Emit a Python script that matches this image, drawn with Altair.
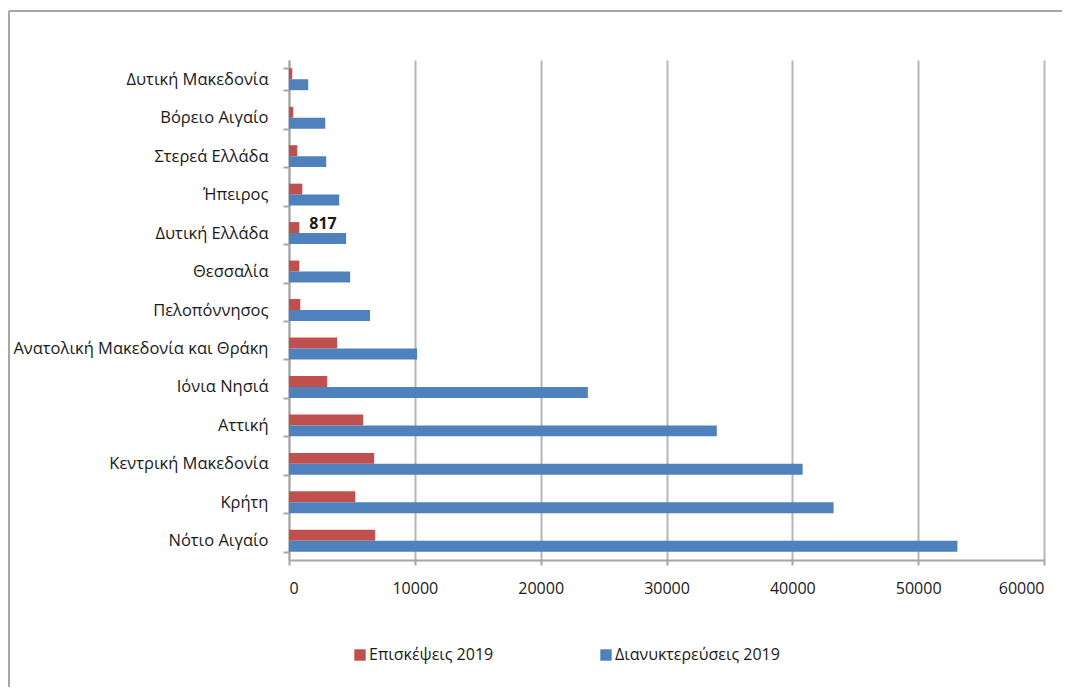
import altair as alt
import pandas as pd

regions = ["Δυτική Μακεδονία", "Βόρειο Αιγαίο", "Στερεά Ελλάδα", "Ήπειρος",
           "Δυτική Ελλάδα", "Θεσσαλία", "Πελοπόννησος",
           "Ανατολική Μακεδονία και Θράκη", "Ιόνια Νησιά", "Αττική",
           "Κεντρική Μακεδονία", "Κρήτη", "Νότιο Αιγαίο "]
visits = [260, 340, 660, 1060, 817, 820, 900, 3830, 3040, 5900, 6770, 5270, 6850]
nights = [1530, 2880, 2960, 3990, 4540, 4860, 6440, 10180, 23750, 34000, 40820, 43280, 53120]
series = ["Επισκέψεις 2019", "Διανυκτερεύσεις 2019"]
colors = ["#C0504D", "#4F81BD"]

rows = []
for r, v, n in zip(regions, visits, nights):
    rows.append({"region": r, "series": series[0], "value": v})
    rows.append({"region": r, "series": series[1], "value": n})
df = pd.DataFrame(rows)

FONT = "Open Sans"
W, H = 755, 500

y_enc = alt.Y("region:N", sort=regions, title=None,
              scale=alt.Scale(paddingInner=0.43, paddingOuter=0.215),
              axis=alt.Axis(tickBand="extent", tickSize=6, labelPadding=15,
                            domainColor="#A6A6A6", domainWidth=2,
                            tickColor="#A6A6A6", tickWidth=2,
                            labelFontSize=16.5, labelColor="#1a1a1a", labelLimit=400,
                            labelFont=FONT, grid=False))
x_enc = alt.X("value:Q", title=None,
              scale=alt.Scale(domain=[0, 60000], nice=False),
              axis=alt.Axis(values=[0, 10000, 20000, 30000, 40000, 50000, 60000],
                            format="d", grid=True, gridColor="#B5B5B5", gridWidth=2,
                            domainColor="#A6A6A6", domainWidth=2,
                            tickColor="#A6A6A6", tickWidth=2, tickSize=5,
                            labelPadding=15, labelFontSize=16, labelColor="#1a1a1a",
                            labelFont=FONT))

bars = alt.Chart(df).mark_bar().encode(
    y=y_enc,
    x=x_enc,
    yOffset=alt.YOffset("series:N", sort=series),
    color=alt.Color("series:N", sort=series,
                    scale=alt.Scale(domain=series, range=colors),
                    legend=alt.Legend(title=None, orient="none", direction="horizontal",
                                      legendX=63, legendY=587,
                                      symbolType="square", symbolSize=130,
                                      symbolStrokeWidth=0, symbolOffset=0,
                                      labelOffset=1, columnPadding=104,
                                      labelFontSize=16, labelFont=FONT,
                                      labelColor="#1a1a1a", labelLimit=300)),
)

label = alt.Chart(df).transform_filter(
    (alt.datum.region == "Δυτική Ελλάδα") & (alt.datum.series == series[0])
).mark_text(align="left", baseline="middle", dx=10, dy=-4,
            fontWeight="bold", fontSize=16, font=FONT, color="#1a1a1a").encode(
    y=alt.Y("region:N", sort=regions),
    x="value:Q",
    yOffset=alt.YOffset("series:N", sort=series),
    text=alt.Text("value:Q", format="d"),
)

blank = alt.Data(values=[{}])
top_line = alt.Chart(blank).mark_rule(color="#A6A6A6", strokeWidth=2).encode(
    x=alt.value(-280), x2=alt.value(W + 18), y=alt.value(-49))
left_line = alt.Chart(blank).mark_rule(color="#A6A6A6", strokeWidth=2).encode(
    x=alt.value(-280), y=alt.value(-49), y2=alt.value(H + 127))

chart = alt.layer(bars, label, top_line, left_line).properties(
    width=W, height=H,
    autosize=alt.AutoSizeParams(type="none"),
    padding={"left": 281, "top": 52, "right": 18, "bottom": 127},
    background="white",
).configure_view(stroke=None)

chart.save("out.html", embed_options={"renderer": "svg", "actions": False})
